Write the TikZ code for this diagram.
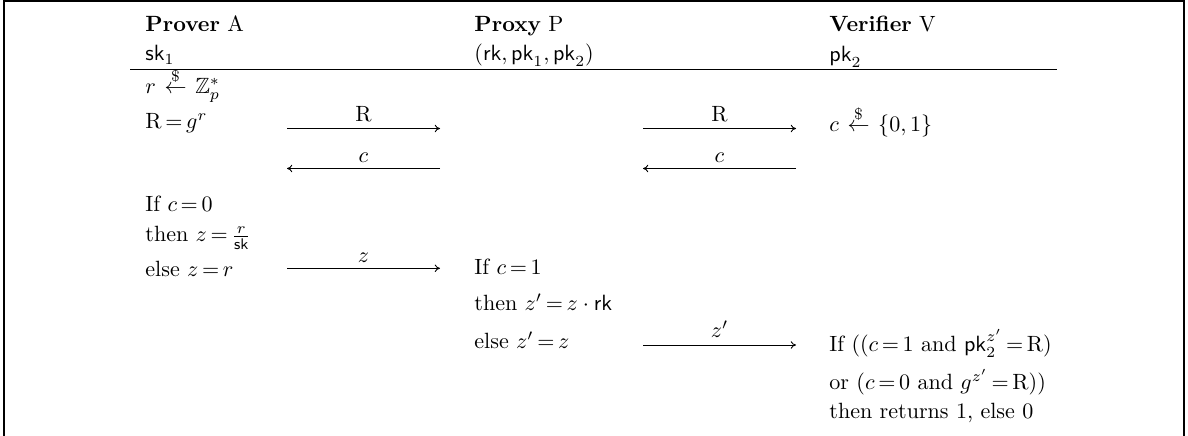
\documentclass[tikz,border=0pt]{standalone}
\usepackage{amssymb}
\usetikzlibrary{arrows.meta}
\thickmuskip=3mu plus 1mu minus 1mu
\newcommand{\rndfrom}{\mskip4mu\stackrel{\$}{\leftarrow}\mskip4mu}
\begin{document}
\begin{tikzpicture}[x=0.453pt,y=-0.453pt,
  txt/.style={anchor=base west, inner sep=0pt},
  lbl/.style={anchor=base, inner sep=0pt},
  msg/.style={-{To[length=2.4pt,width=3.4pt]}, line width=0.4pt},
  frame/.style={line width=0.6pt},
  rule/.style={line width=0.45pt}]
\useasboundingbox (0,0) rectangle (1188,436);
% frame
\coordinate (fbl) at (4,436); \coordinate (ftl) at (4,1);
\coordinate (ftr) at (1184,1); \coordinate (fbr) at (1184,436);
\draw[frame] (fbl) -- (ftl) -- (ftr) -- (fbr);
% header
\node[txt] (hA) at (145,31.7) {\textbf{Prover} A};
\node[txt] (kA) at (145,61) {$\mathsf{sk}_1$};
\node[txt] (hP) at (474,31.7) {\textbf{Proxy} P};
\node[txt] (kP) at (474,61) {$(\mathsf{rk},\mathsf{pk}_1,\mathsf{pk}_2)$};
\node[txt] (hV) at (829,31.7) {\textbf{Verifier} V};
\node[txt] (kV) at (829,61.7) {$\mathsf{pk}_2$};
\coordinate (rl) at (130,69); \coordinate (rr) at (1057,69);
\draw[rule] (rl) -- (rr);
% prover
\node[txt] (a1) at (145,94) {$r \rndfrom \mathbb{Z}_p^*$};
\node[txt] (a2) at (145,129) {$\mathrm{R} = g^r$};
\node[txt] (a3) at (145,211.7) {If $c = 0$};
\node[txt] (a4) at (145,241.7) {then $z = \frac{r}{\mathsf{sk}}$};
\node[txt] (a5) at (145,276.7) {else $z = r$};
% proxy
\node[txt] (p1) at (474,275) {If $c = 1$};
\node[txt] (p2) at (474,310.7) {then $z' = z\cdot\mathsf{rk}$};
\node[txt] (p3) at (474,349) {else $z' = z$};
% verifier
\node[txt] (v1) at (829,131.7) {$c \rndfrom \{0,1\}$};
\node[txt] (v2) at (829,351.7) {If (($c = 1$ and $\mathsf{pk}_2^{z'} = \mathrm{R}$)};
\node[txt] (v3) at (829,390) {or ($c = 0$ and $g^{z'} = \mathrm{R}$))};
\node[txt] (v4) at (829,418) {then returns 1, else 0};
% message endpoints
\coordinate (m1a) at (287,128.5); \coordinate (m1b) at (440,128.5);
\coordinate (m2a) at (643,128.5); \coordinate (m2b) at (796,128.5);
\coordinate (m3a) at (287,168.5); \coordinate (m3b) at (440,168.5);
\coordinate (m4a) at (643,168.5); \coordinate (m4b) at (796,168.5);
\coordinate (m5a) at (287,268.3); \coordinate (m5b) at (440,268.3);
\coordinate (m6a) at (643,345); \coordinate (m6b) at (796,345);
\draw[msg] (m1a) -- (m1b);
\draw[msg] (m2a) -- (m2b);
\draw[msg] (m3b) -- (m3a);
\draw[msg] (m4b) -- (m4a);
\draw[msg] (m5a) -- (m5b);
\draw[msg] (m6a) -- (m6b);
\node[lbl] (l1) at (363.5,121.7) {R};
\node[lbl] (l2) at (719.5,121.7) {R};
\node[lbl] (l3) at (363.5,163) {$c$};
\node[lbl] (l4) at (719.5,163) {$c$};
\node[lbl] (l5) at (363.5,262.3) {$z$};
\node[lbl] (l6) at (719.5,337.5) {$z'$};
\end{tikzpicture}
\end{document}
